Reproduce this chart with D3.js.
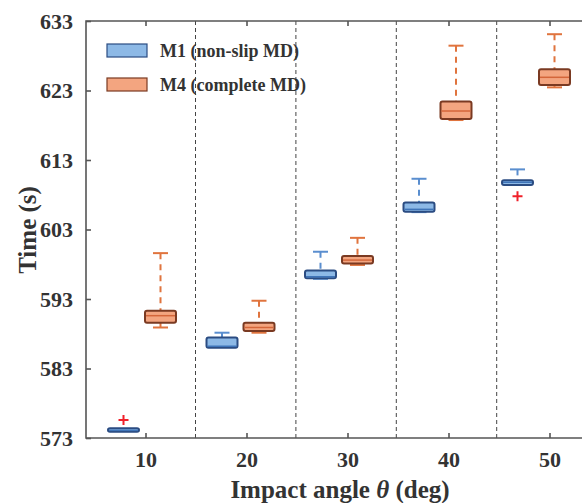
<!DOCTYPE html>
<html>
<head>
<meta charset="utf-8">
<script src="https://cdn.jsdelivr.net/npm/d3@7"></script>
<style>
  body { margin: 0; background: #fff; }
  text { font-family: "Liberation Serif", "Times New Roman", serif; font-weight: bold; fill: #333; }
</style>
</head>
<body>
<script>
// impact angles (deg) and tick labels
var angles = [10, 20, 30, 40, 50];
var yTicks = [573, 583, 593, 603, 613, 623, 633];
var separators = [15, 25, 35, 45];
var seriesNames = ["M1 (non-slip MD)", "M4 (complete MD)"];

// box stats per angle: [lower whisker, q1, median, q3, upper whisker]
var m1Stats = [
  [573.9, 573.9, 574.1, 574.4, 574.4],
  [586.0, 586.0, 586.2, 587.45, 588.15],
  [595.9, 596.0, 596.2, 597.1, 599.8],
  [605.5, 605.55, 605.9, 606.9, 610.3],
  [609.4, 609.4, 609.8, 610.1, 611.65]
];
var m4Stats = [
  [588.9, 589.6, 590.6, 591.3, 599.6],
  [588.15, 588.4, 588.9, 589.6, 592.75],
  [597.9, 598.1, 598.6, 599.2, 601.8],
  [618.75, 618.9, 620.05, 621.4, 629.45],
  [623.45, 623.8, 624.9, 626.05, 631.1]
];
// outliers [angle, value]
var m1Outliers = [[10, 575.6], [50, 607.8]];
var m4Outliers = [];

var W = 582, H = 503;
var pLeft = 86, pTop = 21, pBottom = 438, pRight = 600;

var svg = d3.select("body").append("svg")
    .attr("width", W)
    .attr("height", H);

// axis scales
var x = d3.scaleLinear().domain([10, 50]).range([145.5, 549.5]);
var y = d3.scaleLinear().domain([573, 633]).range([pBottom, pTop]);
// box group centres drift a little from the ticks in the figure
var xb = d3.scaleLinear().domain([10, 50]).range([142, 536]);
var sep = d3.scaleLinear().domain([15, 45]).range([195.5, 496.7]);

var boxW = 31, off = 18.5, capW = 15;

var styles = [
  {fill: "#8db9e6", stroke: "#2b4c82", whisk: "#5a8ecf", median: "#3f74b8", shift: -off},
  {fill: "#f3a580", stroke: "#7a3a22", whisk: "#e0743e", median: "#d4663a", shift: off}
];

// separators
svg.selectAll(".sep")
  .data(separators)
  .enter().append("line")
    .attr("x1", function(d) { return sep(d); })
    .attr("x2", function(d) { return sep(d); })
    .attr("y1", pTop)
    .attr("y2", pBottom)
    .attr("stroke", "#444")
    .attr("stroke-width", 1)
    .attr("stroke-dasharray", "4,3");

function drawBoxes(stats, outliers, st) {
  var g = svg.append("g");
  stats.forEach(function(s, i) {
    var cx = xb(angles[i]) + st.shift;
    // whiskers
    if (s[4] > s[3]) {
      g.append("line").attr("x1", cx).attr("x2", cx)
        .attr("y1", y(s[4])).attr("y2", y(s[3]))
        .attr("stroke", st.whisk).attr("stroke-width", 2).attr("stroke-dasharray", "6,5");
      g.append("line").attr("x1", cx - capW / 2).attr("x2", cx + capW / 2)
        .attr("y1", y(s[4])).attr("y2", y(s[4]))
        .attr("stroke", st.whisk).attr("stroke-width", 2);
    }
    if (s[0] < s[1]) {
      g.append("line").attr("x1", cx).attr("x2", cx)
        .attr("y1", y(s[1])).attr("y2", y(s[0]))
        .attr("stroke", st.whisk).attr("stroke-width", 2);
      g.append("line").attr("x1", cx - capW / 2).attr("x2", cx + capW / 2)
        .attr("y1", y(s[0])).attr("y2", y(s[0]))
        .attr("stroke", st.whisk).attr("stroke-width", 2);
    }
    g.append("rect")
      .attr("x", cx - boxW / 2)
      .attr("y", y(s[3]))
      .attr("width", boxW)
      .attr("height", Math.max(y(s[1]) - y(s[3]), 1))
      .attr("rx", 2)
      .attr("fill", st.fill)
      .attr("stroke", st.stroke)
      .attr("stroke-width", 2);
    g.append("line")
      .attr("x1", cx - boxW / 2 + 1).attr("x2", cx + boxW / 2 - 1)
      .attr("y1", y(s[2])).attr("y2", y(s[2]))
      .attr("stroke", st.median).attr("stroke-width", 1.5);
  });
  outliers.forEach(function(o) {
    var cx = xb(o[0]) + st.shift, cy = y(o[1]);
    g.append("path")
      .attr("d", "M" + (cx - 5) + "," + cy + "H" + (cx + 5) + "M" + cx + "," + (cy - 5) + "V" + (cy + 5))
      .attr("stroke", "#f0202a").attr("stroke-width", 2);
  });
}

drawBoxes(m1Stats, m1Outliers, styles[0]);
drawBoxes(m4Stats, m4Outliers, styles[1]);

// axes frame
var axisCol = "#555";
svg.append("path")
  .attr("d", "M" + pRight + "," + pTop + "H" + pLeft + "V" + pBottom + "H" + pRight)
  .attr("fill", "none")
  .attr("stroke", axisCol)
  .attr("stroke-width", 1.6);

// x ticks (bottom and top, inward)
var xAxis = svg.append("g").attr("transform", "translate(0," + pBottom + ")")
  .call(d3.axisBottom(x).tickValues(angles).tickSizeInner(-5).tickSizeOuter(0).tickPadding(13));
xAxis.select(".domain").remove();
xAxis.selectAll("line").attr("stroke", axisCol).attr("stroke-width", 1.6);
xAxis.selectAll("text").attr("font-size", 22).attr("fill", "#333")
  .style("font-family", "Liberation Serif").style("font-weight", "bold");

var xTop = svg.append("g").attr("transform", "translate(0," + pTop + ")")
  .call(d3.axisTop(x).tickValues(angles).tickSizeInner(-5).tickSizeOuter(0).tickFormat(""));
xTop.select(".domain").remove();
xTop.selectAll("line").attr("stroke", axisCol).attr("stroke-width", 1.6);

// y ticks
var yAxis = svg.append("g").attr("transform", "translate(" + pLeft + ",0)")
  .call(d3.axisLeft(y).tickValues(yTicks).tickSizeInner(-5).tickSizeOuter(0).tickPadding(13));
yAxis.select(".domain").remove();
yAxis.selectAll("line").attr("stroke", axisCol).attr("stroke-width", 1.6);
yAxis.selectAll("text").attr("font-size", 22).attr("fill", "#333")
  .style("font-family", "Liberation Serif").style("font-weight", "bold");

// axis titles
var xt = svg.append("text")
  .attr("x", 340)
  .attr("y", 498)
  .attr("text-anchor", "middle")
  .attr("font-size", 25);
xt.append("tspan").text("Impact angle ");
xt.append("tspan").attr("font-style", "italic").text("\u03b8");
xt.append("tspan").text(" (deg)");

svg.append("text")
  .attr("transform", "translate(36,230) rotate(-90)")
  .attr("text-anchor", "middle")
  .attr("font-size", 25)
  .text("Time (s)");

// legend
var legend = svg.append("g");
seriesNames.forEach(function(name, i) {
  legend.append("rect")
    .attr("x", 107).attr("y", 44 + i * 34)
    .attr("width", 40).attr("height", 13)
    .attr("fill", styles[i].fill)
    .attr("stroke", styles[i].stroke)
    .attr("stroke-width", 1.2);
  legend.append("text")
    .attr("x", 160).attr("y", 57 + i * 34)
    .attr("font-size", 18)
    .text(name);
});
</script>
</body>
</html>
